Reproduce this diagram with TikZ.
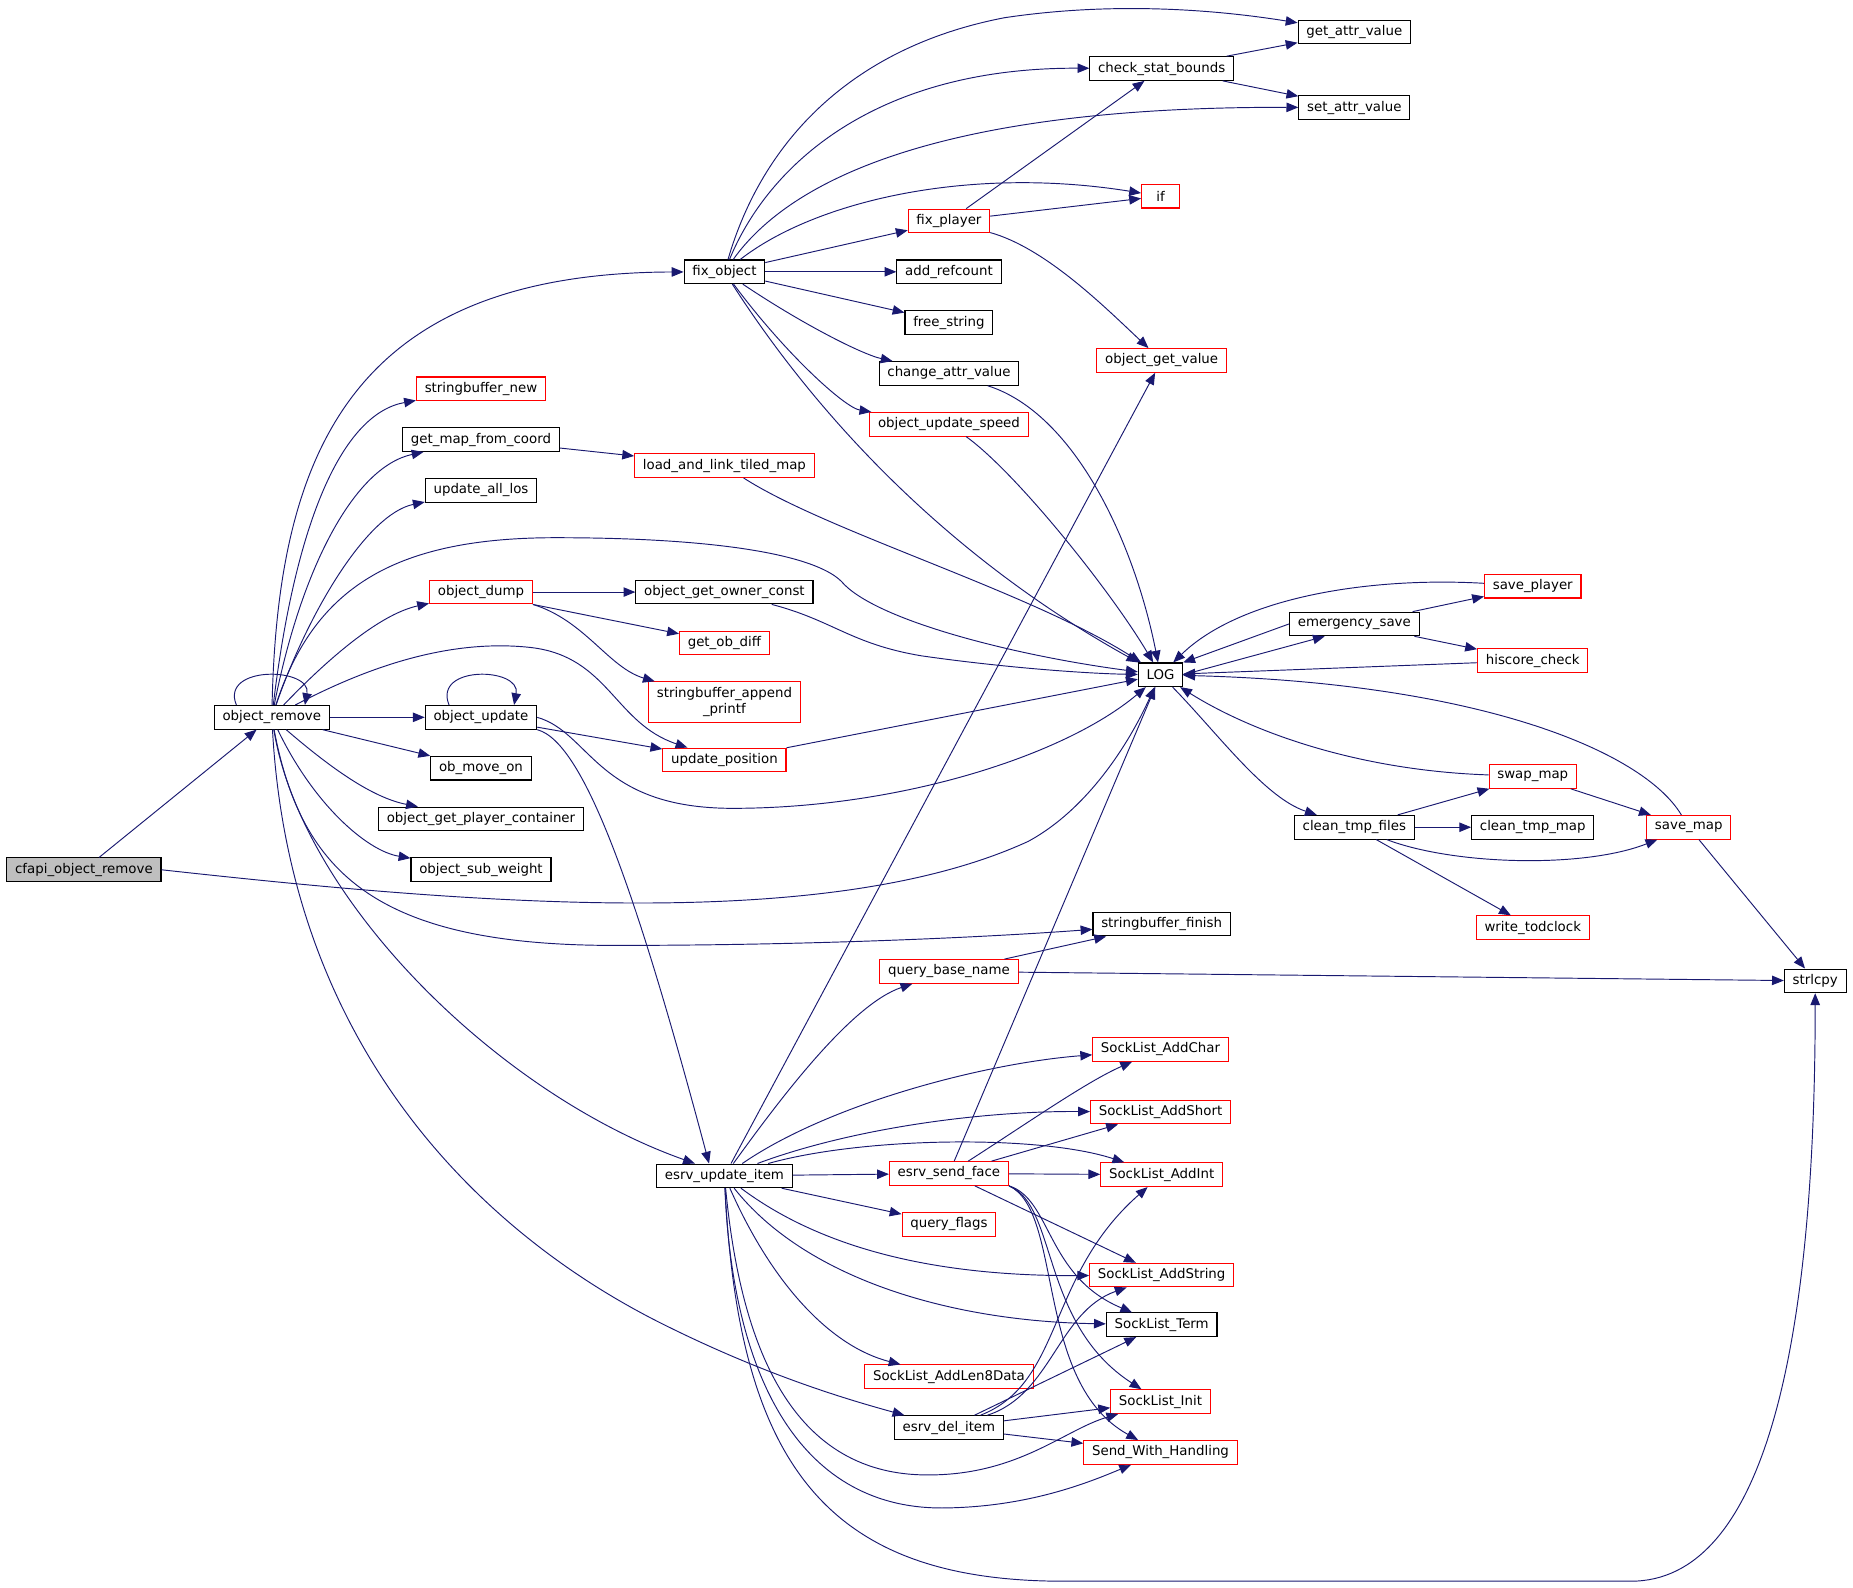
\documentclass[tikz,border=0pt]{standalone}
\usepackage{fontspec}
\setmainfont{DejaVu Sans}
\usetikzlibrary{arrows.meta,positioning}
\definecolor{edgeblue}{HTML}{191970}
\definecolor{rootgray}{HTML}{BFBFBF}

\begin{document}
\begin{tikzpicture}[x=1pt, y=-1pt,
	fn/.style={draw=black, line width=0.9pt, inner xsep=7pt, inner ysep=0pt,
		minimum height=20pt, font=\fontsize{11.3}{13}\selectfont},
	trunc/.style={fn, draw=red},
	root/.style={fn, fill=rootgray},
	call/.style={draw=edgeblue, line width=0.8pt, -{Triangle[length=10pt,width=8pt]}}]
	\useasboundingbox (0,0) rectangle (1568,1343);

	\node[root]  (cfapi)    at (71,736)   {cfapi\_object\_remove};
	\node[fn]    (remove)   at (230,607)  {object\_remove};
	\node[fn]    (fixobj)   at (613,230)  {fix\_object};
	\node[trunc] (sbnew)    at (407,329)  {stringbuffer\_new};
	\node[fn]    (getmap)   at (407,372)  {get\_map\_from\_coord};
	\node[fn]    (updlos)   at (407,415)  {update\_all\_los};
	\node[trunc] (dump)     at (407,501)  {object\_dump};
	\node[fn]    (objupd)   at (407,607)  {object\_update};
	\node[fn]    (moveon)   at (407,650)  {ob\_move\_on};
	\node[fn]    (getcont)  at (407,693)  {object\_get\_player\_container};
	\node[fn]    (subw)     at (407,736)  {object\_sub\_weight};
	\node[fn]    (esrvupd)  at (613,995)  {esrv\_update\_item};
	\node[fn]    (esrvdel)  at (803,1208) {esrv\_del\_item};
	\node[trunc] (loadmap)  at (613,394)  {load\_and\_link\_tiled\_map};
	\node[fn]    (ownerc)   at (613,501)  {object\_get\_owner\_const};
	\node[trunc] (obdiff)   at (613,544)  {get\_ob\_diff};
	\node[trunc, align=center, minimum height=34pt] (sbappend) at (613,594) {stringbuffer\_append\\\_printf};
	\node[trunc] (uppos)    at (613,643)  {update\_position};
	\node[trunc] (fixpl)    at (803,187)  {fix\_player};
	\node[fn]    (addref)   at (803,230)  {add\_refcount};
	\node[fn]    (freestr)  at (803,273)  {free\_string};
	\node[fn]    (chgattr)  at (803,316)  {change\_attr\_value};
	\node[trunc] (upspeed)  at (803,359)  {object\_update\_speed};
	\node[trunc] (qbase)    at (803,822)  {query\_base\_name};
	\node[trunc] (sendface) at (803,993)  {esrv\_send\_face};
	\node[trunc] (qflags)   at (803,1036) {query\_flags};
	\node[trunc] (len8)     at (803,1165) {SockList\_AddLen8Data};
	\node[fn]    (chkstat)  at (983,58)   {check\_stat\_bounds};
	\node[trunc, minimum width=32pt] (ifn) at (982,166) {if};
	\node[trunc] (getval)   at (983,305)  {object\_get\_value};
	\node[fn]    (LOG)      at (982,571)  {LOG};
	\node[fn]    (sbfin)    at (983,782)  {stringbuffer\_finish};
	\node[trunc] (addchar)  at (982,888)  {SockList\_AddChar};
	\node[trunc] (addshort) at (982,941)  {SockList\_AddShort};
	\node[trunc] (addint)   at (983,994)  {SockList\_AddInt};
	\node[trunc] (addstr)   at (983,1079) {SockList\_AddString};
	\node[fn]    (term)     at (983,1121) {SockList\_Term};
	\node[trunc] (sinit)    at (982,1186) {SockList\_Init};
	\node[trunc] (swh)      at (982,1229) {Send\_With\_Handling};
	\node[fn]    (getattr)  at (1146,27)  {get\_attr\_value};
	\node[fn]    (setattr)  at (1146,91)  {set\_attr\_value};
	\node[fn]    (emerg)    at (1146,528) {emergency\_save};
	\node[fn]    (cleanf)   at (1146,700) {clean\_tmp\_files};
	\node[trunc] (saveplr)  at (1297,496) {save\_player};
	\node[trunc] (hiscore)  at (1297,559) {hiscore\_check};
	\node[trunc] (swap)     at (1297,657) {swap\_map};
	\node[fn]    (cleanmap) at (1297,700) {clean\_tmp\_map};
	\node[trunc] (todclock) at (1297,785) {write\_todclock};
	\node[trunc] (savemap)  at (1429,700) {save\_map};
	\node[fn]    (strlcpy)  at (1536,830) {strlcpy};

	% cfapi_object_remove
	\draw[call] (cfapi) -- (remove);
	\draw[call] (cfapi.east) .. controls (400,765) and (700,790) .. (870,712) .. controls (920,685) and (955,630) .. ([xshift=-5pt]LOG.south);

	% object_remove
	\draw[call] ([xshift=-30pt]remove.north) .. controls +(-14,-34) and +(6,-32) .. ([xshift=28pt]remove.north);
	\draw[call] (remove) .. controls (235,380) and (300,231) .. (fixobj);
	\draw[call] (remove) .. controls (250,440) and (290,350) .. (sbnew);
	\draw[call] (remove) .. controls (255,480) and (300,395) .. (getmap);
	\draw[call] (remove) .. controls (260,520) and (310,435) .. (updlos);
	\draw[call] (remove) .. controls (265,500) and (330,455) .. (470,455) .. controls (610,455) and (690,470) .. (712,492) .. controls (740,525) and (860,555) .. (LOG);
	\draw[call] (remove) .. controls (275,560) and (320,520) .. (dump);
	\draw[call] (remove) .. controls (310,565) and (380,540) .. (450,548) .. controls (515,556) and (520,612) .. (uppos);
	\draw[call] (remove) -- (objupd);
	\draw[call] (remove) -- (moveon);
	\draw[call] (remove) .. controls (280,650) and (315,675) .. (getcont);
	\draw[call] (remove) .. controls (265,680) and (310,720) .. (subw);
	\draw[call] (remove) .. controls (255,740) and (320,800) .. (520,800) .. controls (700,800) and (850,792) .. (sbfin);
	\draw[call] (remove) .. controls (255,760) and (420,925) .. ([xshift=-25pt]esrvupd.north);
	\draw[call] (remove) .. controls (245,880) and (400,1040) .. (560,1120) .. controls (650,1165) and (720,1185) .. (esrvdel);

	% object_update
	\draw[call] ([xshift=-27pt]objupd.north) .. controls +(-14,-34) and +(6,-32) .. ([xshift=28pt]objupd.north);
	\draw[call] (objupd) -- (uppos);
	\draw[call] (objupd.east) .. controls (500,620) and (505,684) .. (620,684) .. controls (760,684) and (900,640) .. (LOG);
	\draw[call] (objupd.south east) .. controls (495,628) and (540,760) .. ([xshift=-13pt]esrvupd.north);

	% object_dump, get_map_from_coord and the rest of that column
	\draw[call] (dump) -- (ownerc);
	\draw[call] (dump.south east) -- (obdiff);
	\draw[call] (dump.south east) .. controls (495,525) and (515,565) .. (sbappend);
	\draw[call] (getmap) -- (loadmap);
	\draw[call] (loadmap) .. controls (700,450) and (870,500) .. (LOG);
	\draw[call] (ownerc) .. controls (705,525) and (720,545) .. (780,555) .. controls (850,565) and (920,570) .. (LOG);
	\draw[call] (uppos) -- (LOG);

	% fix_object
	\draw[call] (fixobj) .. controls (645,120) and (720,40) .. (850,15) .. controls (950,0) and (1040,10) .. (getattr);
	\draw[call] (fixobj) .. controls (650,140) and (740,57) .. (chkstat);
	\draw[call] (fixobj) .. controls (670,150) and (800,90) .. (setattr);
	\draw[call] (fixobj) .. controls (690,170) and (820,140) .. (ifn);
	\draw[call] (fixobj) -- (fixpl);
	\draw[call] (fixobj) -- (addref);
	\draw[call] (fixobj) -- (freestr);
	\draw[call] (fixobj) .. controls (680,275) and (730,300) .. (chgattr);
	\draw[call] (fixobj) .. controls (665,300) and (715,345) .. (upspeed);
	\draw[call] (fixobj) .. controls (690,350) and (800,470) .. (LOG);
	\draw[call] (fixpl) -- (chkstat);
	\draw[call] (fixpl) -- (ifn);
	\draw[call] (fixpl) .. controls (885,210) and (935,260) .. (getval);
	\draw[call] (chkstat) -- (getattr);
	\draw[call] (chkstat) -- (setattr);
	\draw[call] (chgattr) .. controls (910,350) and (960,460) .. (LOG);
	\draw[call] (upspeed) .. controls (860,400) and (940,500) .. (LOG);

	% esrv_update_item
	\draw[call] (esrvupd) -- (getval);
	\draw[call] (esrvupd) .. controls (660,930) and (720,850) .. (qbase);
	\draw[call] (esrvupd) .. controls (700,935) and (830,900) .. (addchar);
	\draw[call] (esrvupd) .. controls (720,955) and (830,940) .. (addshort);
	\draw[call] (esrvupd) .. controls (730,962) and (880,960) .. (addint);
	\draw[call] (esrvupd) -- (sendface);
	\draw[call] (esrvupd) -- (qflags);
	\draw[call] (esrvupd) .. controls (700,1060) and (800,1080) .. (addstr);
	\draw[call] (esrvupd) .. controls (680,1080) and (800,1118) .. (term);
	\draw[call] (esrvupd) .. controls (655,1090) and (705,1140) .. (len8);
	\draw[call] (esrvupd) .. controls (625,1120) and (660,1245) .. (780,1248) .. controls (860,1250) and (900,1210) .. (sinit);
	\draw[call] (esrvupd) .. controls (620,1170) and (680,1278) .. (800,1276) .. controls (870,1275) and (920,1255) .. (swh);
	\draw[call] (esrvupd) .. controls (625,1240) and (700,1338) .. (900,1338) -- (1380,1338) .. controls (1490,1338) and (1536,1150) .. (strlcpy);
	\draw[call] (qbase) -- (sbfin);
	\draw[call] (qbase) -- (strlcpy);

	% esrv_send_face
	\draw[call] (sendface) -- (LOG);
	\draw[call] (sendface) .. controls (870,950) and (920,915) .. (addchar);
	\draw[call] (sendface) -- (addshort);
	\draw[call] (sendface) -- (addint);
	\draw[call] (sendface) -- (addstr);
	\draw[call] (sendface.south east) .. controls (890,1015) and (885,1080) .. (term);
	\draw[call] (sendface.south east) .. controls (895,1020) and (880,1120) .. (sinit);
	\draw[call] (sendface.south east) .. controls (900,1025) and (875,1170) .. (swh);

	% esrv_del_item
	\draw[call] (esrvdel) .. controls (900,1170) and (885,1080) .. (addint);
	\draw[call] (esrvdel) .. controls (890,1180) and (895,1110) .. (addstr);
	\draw[call] (esrvdel) -- (term);
	\draw[call] (esrvdel) -- (sinit);
	\draw[call] (esrvdel) -- (swh);

	% LOG and the save functions
	\draw[call] (LOG.east) -- ([xshift=-25pt]emerg.south);
	\draw[call] (emerg.west) -- (LOG.north east);
	\draw[call] (emerg) -- (saveplr);
	\draw[call] (emerg) -- (hiscore);
	\draw[call] (saveplr) .. controls (1160,488) and (1050,505) .. (LOG);
	\draw[call] (hiscore) -- (LOG);
	\draw[call] (LOG) .. controls (1030,620) and (1070,675) .. (cleanf);
	\draw[call] (swap) .. controls (1150,652) and (1060,620) .. (LOG);
	\draw[call] (savemap) .. controls (1390,635) and (1250,578) .. (LOG);
	\draw[call] (cleanf) -- (swap);
	\draw[call] (cleanf) -- (cleanmap);
	\draw[call] (cleanf) .. controls (1230,732) and (1340,735) .. (savemap);
	\draw[call] (cleanf) -- (todclock);
	\draw[call] (swap) -- (savemap);
	\draw[call] (savemap) -- (strlcpy);
\end{tikzpicture}
\end{document}
